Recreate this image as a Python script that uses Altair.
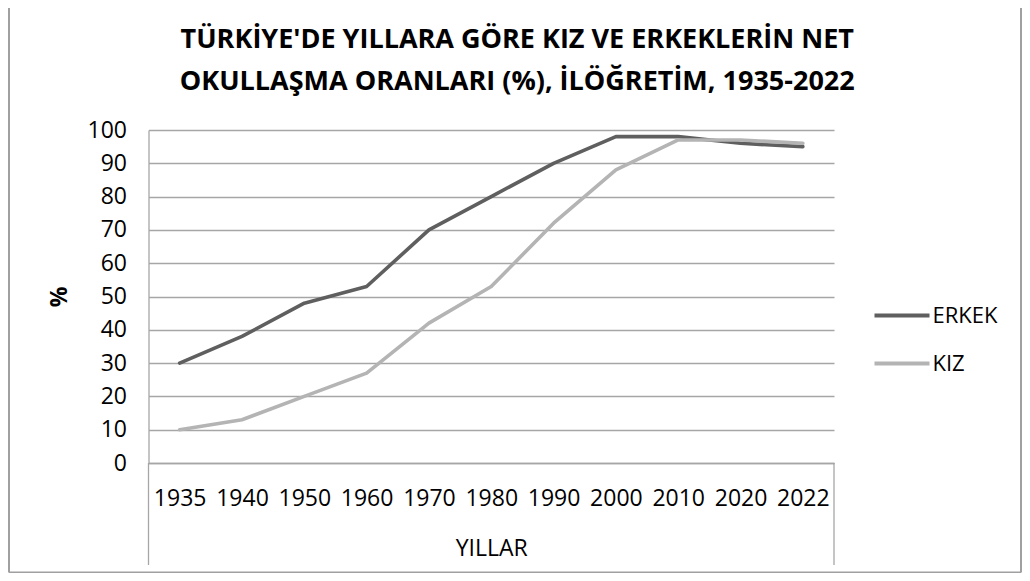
import altair as alt
import pandas as pd

years = ["1935", "1940", "1950", "1960", "1970", "1980", "1990", "2000", "2010", "2020", "2022"]
erkek = [30, 38, 48, 53, 70, 80, 90, 98, 98, 96, 95]
kiz = [10, 13, 20, 27, 42, 53, 72, 88, 97, 97, 96]
series_names = ["ERKEK", "KIZ"]
series_colors = ["#5f5f5f", "#b4b4b4"]
title_lines = ["TÜRKİYE'DE YILLARA GÖRE KIZ VE ERKEKLERİN NET",
               "OKULLAŞMA ORANLARI (%), İLÖĞRETİM, 1935-2022"]

rows = []
for i, y in enumerate(years):
    rows.append({"Yıl": y, "Seri": "ERKEK", "Değer": erkek[i], "ord": 0})
    rows.append({"Yıl": y, "Seri": "KIZ", "Değer": kiz[i], "ord": 1})
df = pd.DataFrame(rows)

W, H = 685.5, 333
FONT = "Open Sans"
GRID = "#a6a6a6"

lines = alt.Chart(df).mark_line(strokeWidth=3.6, strokeCap="round", strokeJoin="round").encode(
    x=alt.X("Yıl:O", sort=years, scale=alt.Scale(type="point", padding=0.5),
            axis=alt.Axis(title="YILLAR", labelAngle=0, ticks=False, labelPadding=24,
                          titlePadding=27, labelOverlap=False, domainColor=GRID,
                          domainWidth=1.3, grid=False)),
    y=alt.Y("Değer:Q", scale=alt.Scale(domain=[0, 100], nice=False),
            axis=alt.Axis(title="%", values=list(range(0, 101, 10)), ticks=False,
                          labelPadding=22, titlePadding=16, titleFontWeight="bold",
                          gridColor=GRID, gridWidth=1.3, domainColor=GRID, domainWidth=1.3)),
    color=alt.Color("Seri:N", scale=alt.Scale(domain=series_names, range=series_colors),
                    legend=alt.Legend(title=None, orient="none", legendX=724, legendY=156,
                                      symbolType="stroke", symbolSize=3025,
                                      symbolStrokeWidth=4, rowPadding=7,
                                      labelFontSize=22, labelFont=FONT, labelColor="#000",
                                      labelOffset=1)),
    order=alt.Order("ord:Q"),
)

tdf = pd.DataFrame({"line": title_lines, "row": [0, 1]})
title0 = alt.Chart(tdf).transform_filter("datum.row == 0").mark_text(
    font=FONT, fontSize=27, fontWeight="bold", color="#000", align="center", baseline="middle"
).encode(text="line:N", x=alt.value(W / 2 + 26), y=alt.value(-90))
title1 = alt.Chart(tdf).transform_filter("datum.row == 1").mark_text(
    font=FONT, fontSize=27, fontWeight="bold", color="#000", align="center", baseline="middle"
).encode(text="line:N", x=alt.value(W / 2 + 26), y=alt.value(-48))

ext = pd.DataFrame({"k": ["l"]})
extend_l = alt.Chart(ext).mark_rule(color=GRID, strokeWidth=1.3).encode(
    x=alt.value(0), y=alt.value(H), y2=alt.value(435))
extend_r = alt.Chart(ext).mark_rule(color=GRID, strokeWidth=1.3).encode(
    x=alt.value(W), y=alt.value(H), y2=alt.value(435))

border_col = "#a0a0a0"
b_left = alt.Chart(ext).mark_rule(color=border_col, strokeWidth=2).encode(
    x=alt.value(-139.5), y=alt.value(-122), y2=alt.value(442.5))
b_right = alt.Chart(ext).mark_rule(color=border_col, strokeWidth=2).encode(
    x=alt.value(872.5), y=alt.value(-122), y2=alt.value(442.5))
b_bottom = alt.Chart(ext).mark_rule(color=border_col, strokeWidth=2).encode(
    x=alt.value(-139.5), x2=alt.value(872.5), y=alt.value(442.5))

chart = alt.layer(extend_l, extend_r, b_left, b_right, b_bottom, lines, title0, title1).properties(
    width=W, height=H,
    padding={"left": 140.5, "top": 122, "right": 188, "bottom": 110},
    autosize=alt.AutoSizeParams(type="none"),
).configure_axis(
    labelFont=FONT, titleFont=FONT, labelFontSize=23, titleFontSize=23,
    labelColor="#000", titleColor="#000", titleFontWeight="normal",
).configure_view(stroke=None)

chart.save("out.html", embed_options={"renderer": "svg", "actions": False})
